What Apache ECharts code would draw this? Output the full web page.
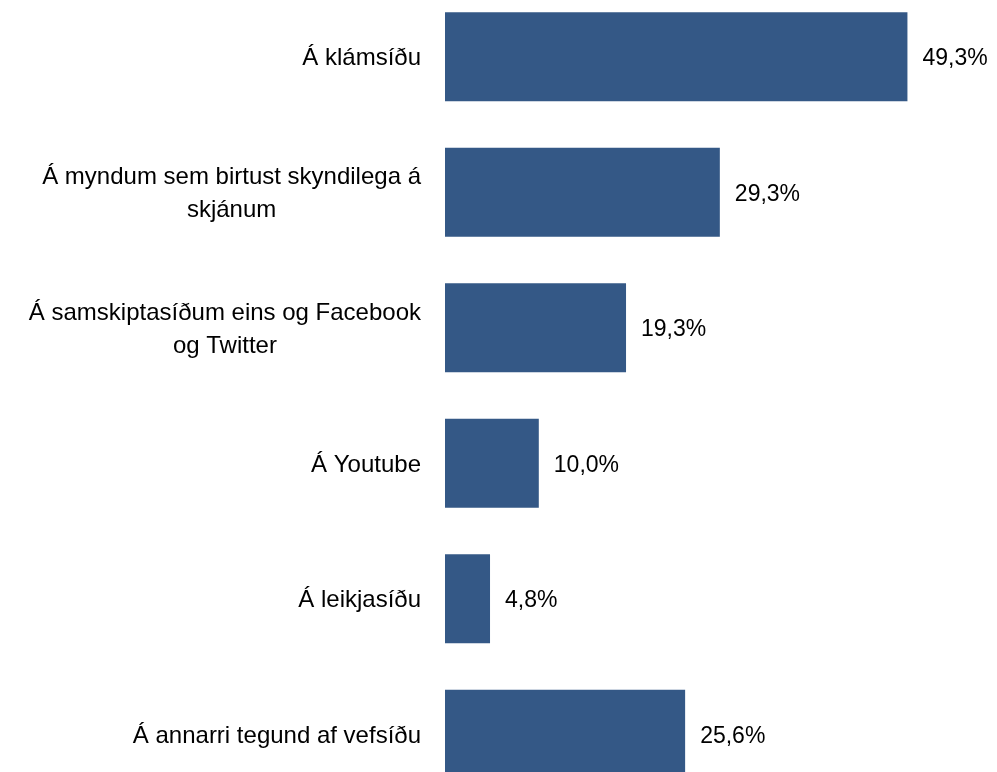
<!DOCTYPE html>
<html>
<head>
<meta charset="utf-8">
<script src="https://cdn.jsdelivr.net/npm/echarts@6/dist/echarts.min.js"></script>
<style>
  html, body { margin: 0; padding: 0; background: #fff; }
  #chart { width: 997px; height: 772px; }
</style>
</head>
<body>
<div id="chart"></div>
<script>
// flokkar (top to bottom)
const categories = [
  'Á klámsíðu',
  'Á myndum sem birtust skyndilega á\nskjánum',
  'Á samskiptasíðum eins og Facebook\nog Twitter',
  'Á Youtube',
  'Á leikjasíðu',
  'Á annarri tegund af vefsíðu'
]
const values = [49.3, 29.3, 19.3, 10.0, 4.8, 25.6]

const font = '"Liberation Sans", Arial, sans-serif'

const chart = echarts.init(document.getElementById('chart'))
chart.setOption({
  animation: false,
  grid: {
    left: 445,
    top: -11,
    width: 469,
    height: 813,
    containLabel: false,
    outerBoundsMode: 'none'
  },
  xAxis: {
    type: 'value',
    min: 0,
    max: 50,
    show: false
  },
  yAxis: {
    type: 'category',
    inverse: true,
    data: categories,
    axisLine: { show: false },
    axisTick: { show: false },
    splitLine: { show: false },
    axisLabel: {
      margin: 24,
      color: '#000',
      fontFamily: font,
      fontSize: 24,
      lineHeight: 33,
      padding: [4, 0, 0, 0],
      formatter: function (v) {
        return v.split('\n').map(s => '{c|' + s + '}').join('\n')
      },
      rich: {
        c: { align: 'center', fontFamily: font, fontSize: 24, lineHeight: 33, color: '#000' }
      }
    }
  },
  series: [{
    type: 'bar',
    data: values,
    barWidth: 89,
    itemStyle: { color: '#345886' },
    label: {
      show: true,
      position: 'right',
      distance: 15,
      color: '#000',
      fontFamily: font,
      fontSize: 23,
      offset: [0, 2],
      formatter: p => p.value.toFixed(1).replace('.', ',') + '%'
    }
  }]
})
</script>
</body>
</html>
